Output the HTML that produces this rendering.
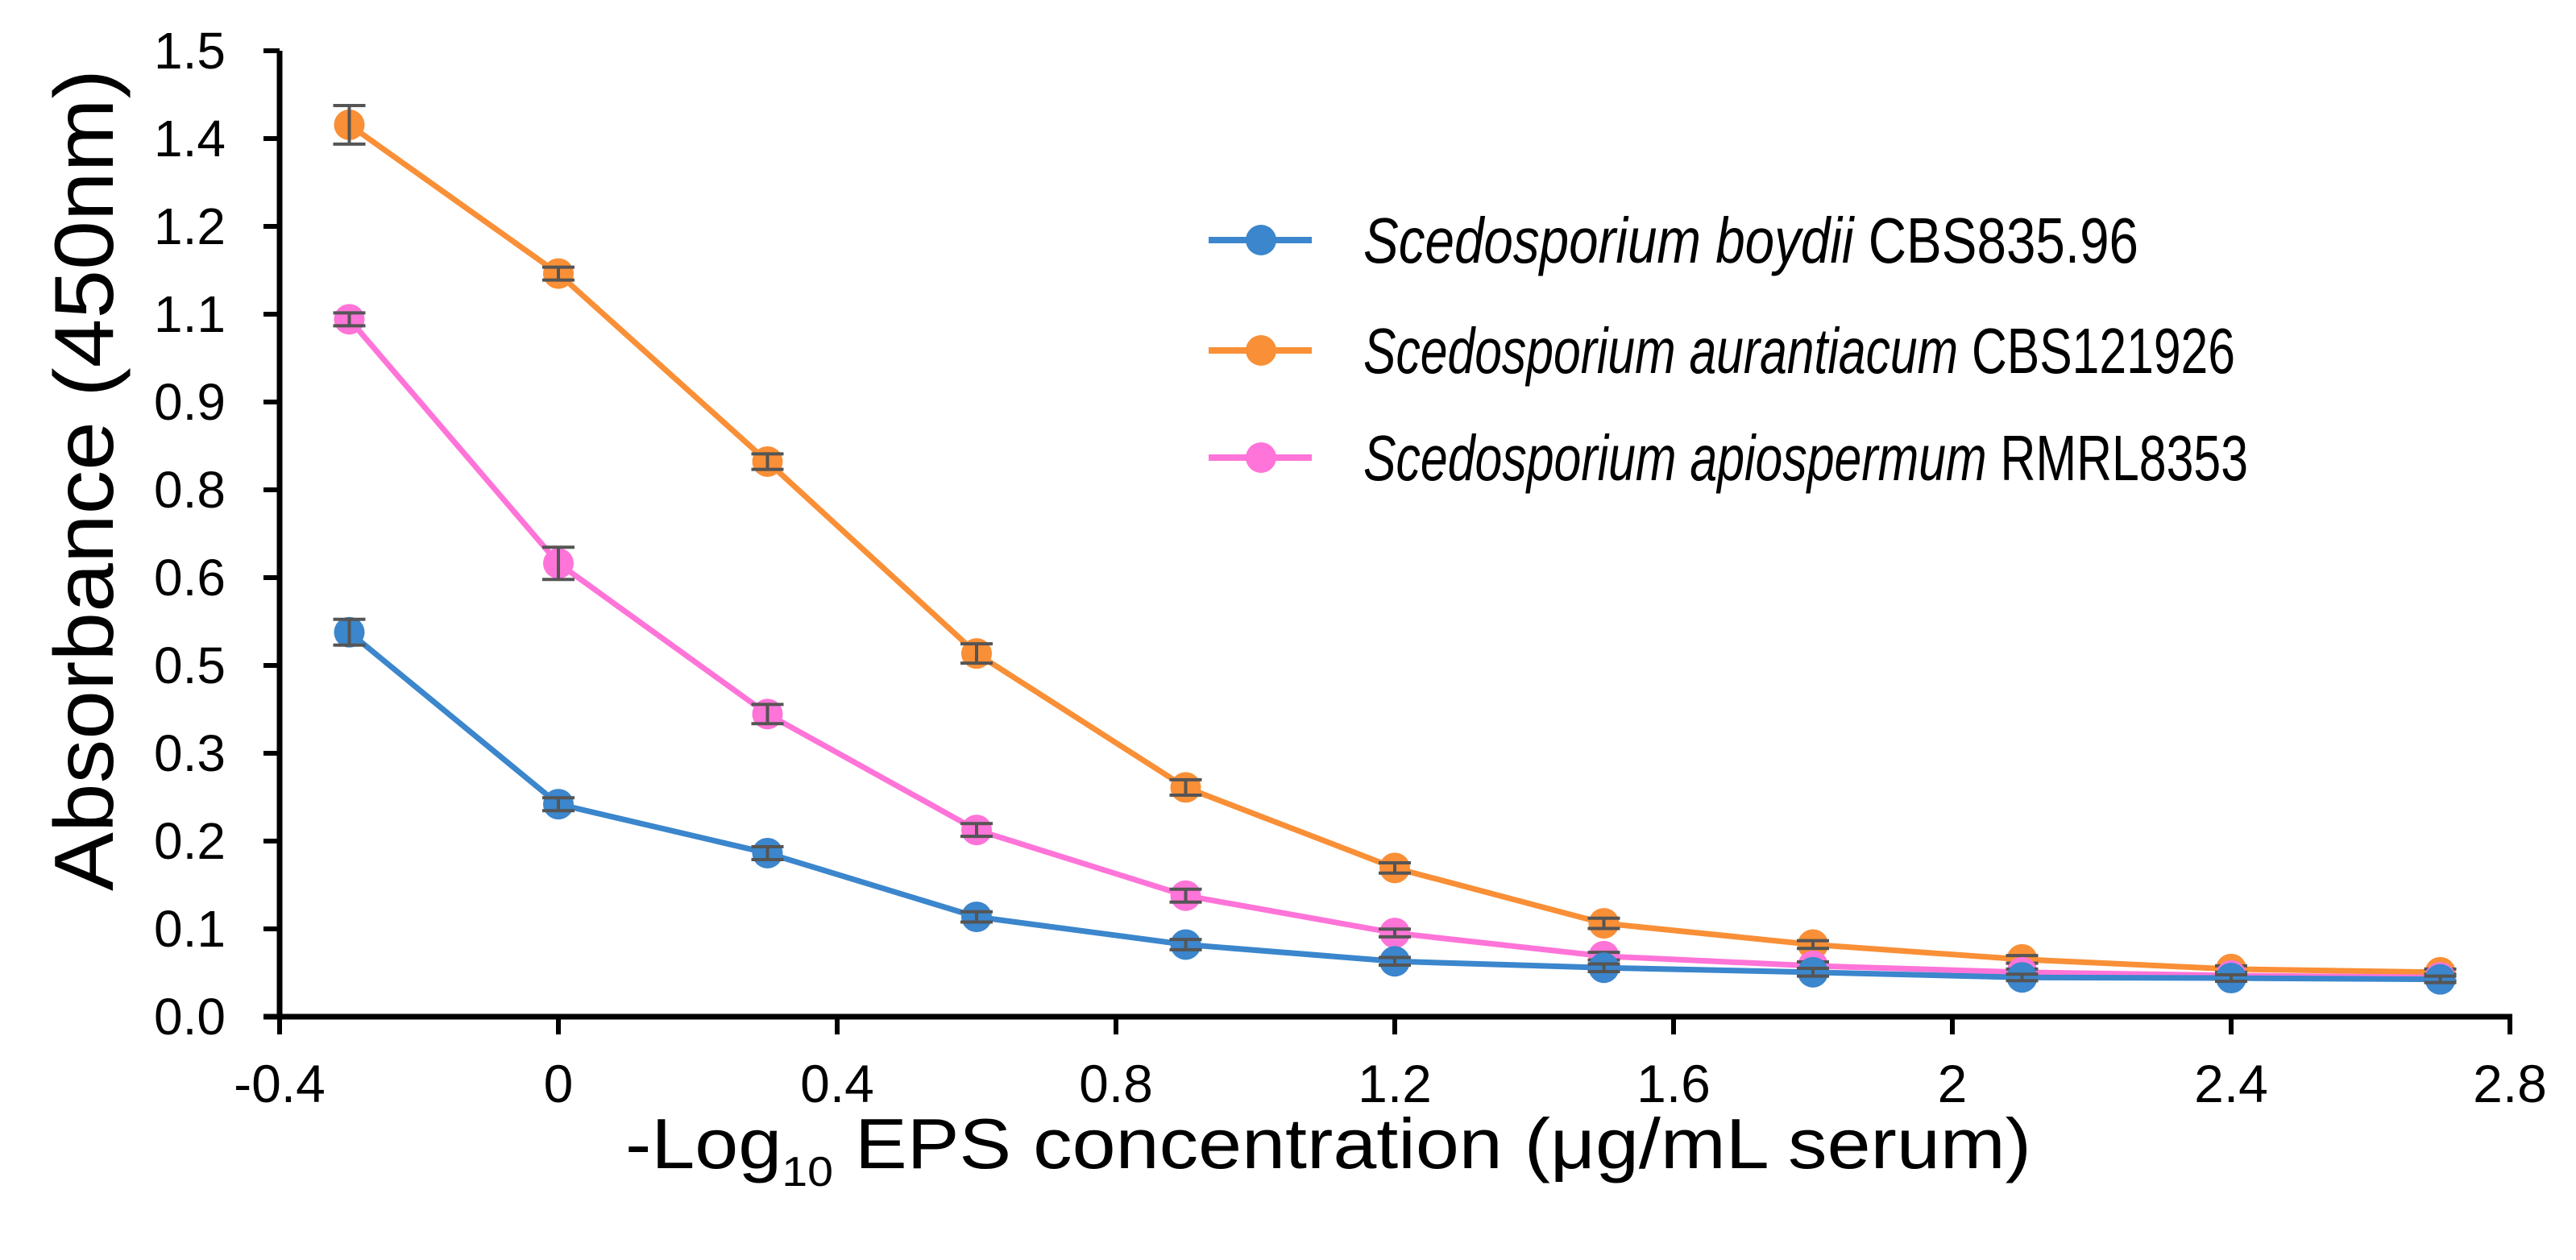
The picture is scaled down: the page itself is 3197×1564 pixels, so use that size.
<!DOCTYPE html>
<html><head><meta charset="utf-8"><style>
html,body{margin:0;padding:0;background:#fff;}
svg{display:block;font-family:"Liberation Sans",Arial,sans-serif;}
</style></head><body>
<svg id="chart" width="3197" height="1564" viewBox="0 0 3197 1564" xmlns="http://www.w3.org/2000/svg">
</svg>
<script>
const xValues=[-0.3,0,0.3,0.6,0.9,1.2,1.5,1.8,2.1,2.4,2.7];
const boydii=[0.597,0.330,0.254,0.155,0.112,0.086,0.076,0.069,0.061,0.060,0.058];
const aurantiacum=[1.385,1.154,0.862,0.564,0.356,0.231,0.145,0.112,0.089,0.074,0.069];
const apiospermum=[1.083,0.704,0.470,0.290,0.188,0.130,0.094,0.079,0.069,0.064,0.061];
const boydiiErr=[0.02,0.01,0.01,0.008,0.008,0.006,0.006,0.006,0.005,0.005,0.005];
const aurantiacumErr=[0.03,0.01,0.012,0.015,0.012,0.008,0.008,0.006,0.006,0.005,0.005];
const apiospermumErr=[0.01,0.025,0.015,0.01,0.01,0.006,0.006,0.006,0.005,0.005,0.005];
const xTicks=[-0.4,0,0.4,0.8,1.2,1.6,2,2.4,2.8];
const yTickLabels=["0.0","0.1","0.2","0.3","0.5","0.6","0.8","0.9","1.1","1.2","1.4","1.5"];
const seriesNames=["Scedosporium boydii","Scedosporium aurantiacum","Scedosporium apiospermum"];
const seriesCodes=["CBS835.96","CBS121926","RMRL8353"];

const NS="http://www.w3.org/2000/svg";
const svg=document.getElementById('chart');
const X0=347,X1=3115,Y0=1262,Y1=63;
const xs=v=>X0+(v-(-0.4))/(3.2)*(X1-X0);
const ys=v=>Y0-v/1.5*(Y0-Y1);
function el(t,a,p){const e=document.createElementNS(NS,t);for(const k in a)e.setAttribute(k,a[k]);(p||svg).appendChild(e);return e;}

let ax=el('line',{x1:X0,y1:Y1,x2:X0,y2:Y0,stroke:'#000','stroke-width':7});


ax=el('line',{x1:X0-20,y1:Y0,x2:X1+3,y2:Y0,stroke:'#000','stroke-width':7});


const nY=yTickLabels.length-1;
yTickLabels.forEach((lab,i)=>{
  const y=Y0-i*(Y0-Y1)/nY;
  const t=el('line',{x1:X0-20,y1:y,x2:X0,y2:y,stroke:'#000','stroke-width':6});
  
  
  const tx=el('text',{x:280,y:y+22,'text-anchor':'end','font-size':64,fill:'#000'});
  tx.textContent=lab;
  
  
});
xTicks.forEach(v=>{
  const x=xs(v);
  const t=el('line',{x1:x,y1:Y0,x2:x,y2:Y0+22,stroke:'#000','stroke-width':6});
  
  
  const tx=el('text',{x:x,y:1368,'text-anchor':'middle','font-size':66,fill:'#000'});
  tx.textContent=String(v);
  
  
});
let yt=el('text',{transform:'translate(140,596) rotate(-90)','text-anchor':'middle','font-size':104,fill:'#000',textLength:1020,lengthAdjust:'spacingAndGlyphs'});
yt.textContent='Absorbance (450nm)';


let xt=el('text',{x:776,y:1450,'font-size':88,fill:'#000',textLength:1745,lengthAdjust:'spacingAndGlyphs'});
xt.innerHTML='-Log<tspan font-size="52" dy="22">10</tspan><tspan dy="-22"> EPS concentration (μg/mL serum)</tspan>';



const colors=['#3b86cc','#f98f36','#ff74d8'];
const data=[boydii,aurantiacum,apiospermum];
const errs=[boydiiErr,aurantiacumErr,apiospermumErr];
const keys=['boydii','aurantiacum','apiospermum'];
[1,2,0].forEach(s=>{
  const g=el('g',{});
  
  
  const pts=xValues.map((x,i)=>xs(x)+','+ys(data[s][i])).join(' ');
  const pl=el('polyline',{points:pts,fill:'none',stroke:colors[s],'stroke-width':7,'stroke-linejoin':'round'},g);
  
  
  xValues.forEach((x,i)=>{
    const cx=xs(x),v=data[s][i],e=errs[s][i];
    const c=el('circle',{cx:cx,cy:ys(v),r:19,fill:colors[s]},g);
    
    
    const eb=el('path',{d:`M${cx-20},${ys(v+e)}H${cx+20}M${cx},${ys(v+e)}V${ys(v-e)}M${cx-20},${ys(v-e)}H${cx+20}`,stroke:'#555','stroke-width':4,fill:'none'},g);
    
    
  });
});
const rowsY=[298,435,568];
const lens=[962,1082,1098];
seriesNames.forEach((n,s)=>{
  const g=el('g',{});
  
  
  el('line',{x1:1500,y1:rowsY[s],x2:1628,y2:rowsY[s],stroke:colors[s],'stroke-width':8},g);
  el('circle',{cx:1565,cy:rowsY[s],r:19,fill:colors[s]},g);
  const t=el('text',{x:1692,y:rowsY[s]+28,'font-size':80,fill:'#000',textLength:lens[s],lengthAdjust:'spacingAndGlyphs'},g);
  t.innerHTML='<tspan font-style="italic">'+n+'</tspan> '+seriesCodes[s];
});
</script>
</body></html>
